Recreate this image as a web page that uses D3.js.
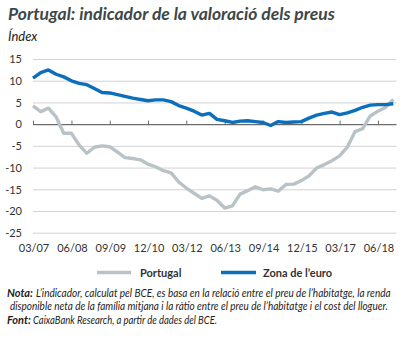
<!DOCTYPE html>
<html>
<head>
<meta charset="utf-8">
<script src="https://cdn.jsdelivr.net/npm/d3@7"></script>
<style>
  html, body { margin: 0; padding: 0; background: #ffffff; }
  svg { display: block; }
  text { font-family: Lato, "Open Sans", sans-serif; }
</style>
</head>
<body>
<svg id="chart" width="415" height="338"></svg>
<script>
// Quarterly series, March 2007 to December 2018
const firstQuarter = "03/07";
const quarterCount = 48;

const portugal = [
  4.3, 3.0, 3.8, 1.8, -2.0, -2.0, -4.7, -6.6, -5.2, -4.9, -5.1, -6.3,
  -7.6, -7.8, -8.1, -9.1, -9.7, -10.6, -11.1, -13.2, -14.6, -15.8, -17.0, -16.4,
  -17.4, -19.2, -18.7, -16.0, -15.2, -14.3, -15.0, -14.8, -15.3, -13.8, -13.7, -12.9,
  -11.8, -10.0, -9.2, -8.3, -7.2, -5.2, -1.6, -0.9, 2.0, 3.1, 4.0, 5.8
];

const euroArea = [
  10.7, 12.0, 12.6, 11.6, 11.0, 10.1, 9.5, 9.2, 8.3, 7.4, 7.3, 6.9,
  6.5, 6.1, 5.8, 5.5, 5.7, 5.7, 5.3, 4.4, 3.8, 3.1, 2.2, 2.6,
  1.2, 0.9, 0.5, 0.8, 0.9, 0.7, 0.5, -0.2, 0.7, 0.5, 0.6, 0.7,
  1.5, 2.2, 2.6, 2.9, 2.3, 2.7, 3.3, 4.0, 4.5, 4.6, 4.6, 4.8
];

const xTickLabels = ["03/07", "06/08", "09/09", "12/10", "03/12", "06/13", "09/14", "12/15", "03/17", "06/18"];
const yTickValues = [15, 10, 5, 0, -5, -10, -15, -20, -25];

const seriesNames = ["Portugal", "Zona de l\u2019euro"];
const seriesColors = ["#b9c2c6", "#0b6fbb"];

const parseQ = d3.timeParse("%m/%y");
const start = parseQ(firstQuarter);
const dates = d3.range(quarterCount).map(i => d3.timeMonth.offset(start, i * 3));

const svg = d3.select("#chart");

// Text squeezed horizontally to a given width (condensed look)
function fittedText(xPos, yPos, str, width, attrs) {
  const t = svg.append("text").text(str);
  Object.entries(attrs).forEach(([k, v]) => t.attr(k, v));
  const natural = t.node().getComputedTextLength();
  const s = Math.min(1, width / natural);
  t.attr("transform", `translate(${xPos},${yPos}) scale(${s},1)`);
  return t;
}

// Header
fittedText(8, 20, "Portugal: indicador de la valoració dels preus", 357, {
  "font-size": 17.5, "font-weight": 700, "font-style": "italic", fill: "#3d4747"
});

svg.append("text")
  .attr("x", 8).attr("y", 41)
  .attr("font-size", 13).attr("font-style", "italic")
  .attr("fill", "#222")
  .text("Índex");

// Scales
const x = d3.scaleTime().domain([dates[0], dates[dates.length - 1]]).range([33, 393.3]);
const y = d3.scaleLinear().domain([-25, 15]).range([233.2, 59.5]);
const gridRight = 396.5;

// Grid lines
svg.append("g")
  .selectAll("line")
  .data(yTickValues.filter(v => v !== 0))
  .join("line")
  .attr("x1", 33).attr("x2", gridRight)
  .attr("y1", d => y(d)).attr("y2", d => y(d))
  .attr("stroke", "#d3d3d3").attr("stroke-width", 1);

// Y labels
svg.append("g")
  .selectAll("text")
  .data(yTickValues)
  .join("text")
  .attr("x", 22).attr("y", d => y(d))
  .attr("dy", "0.35em")
  .attr("text-anchor", "end")
  .attr("font-size", 11).attr("fill", "#333")
  .text(d => d);

// Zero axis with upward ticks
const xAxis = d3.axisTop(x)
  .tickValues(xTickLabels.map(parseQ))
  .tickSize(4)
  .tickSizeOuter(0)
  .tickFormat("");
const axisG = svg.append("g")
  .attr("transform", `translate(0,${y(0)})`)
  .call(xAxis);
axisG.select(".domain").attr("d", `M33,0H${gridRight}`).attr("stroke", "#6b6b6b").attr("stroke-width", 1.3);
axisG.selectAll(".tick line").attr("stroke", "#6b6b6b").attr("stroke-width", 1);

// X labels along the bottom
svg.append("g")
  .selectAll("text")
  .data(xTickLabels)
  .join("text")
  .attr("x", d => x(parseQ(d)) + 1)
  .attr("y", 252)
  .attr("text-anchor", "middle")
  .attr("font-size", 11).attr("fill", "#333")
  .text(d => d);

// Lines
const line = d3.line()
  .x((d, i) => x(dates[i]))
  .y(d => y(d));

[portugal, euroArea].forEach((vals, k) => {
  svg.append("path")
    .datum(vals)
    .attr("fill", "none")
    .attr("stroke", seriesColors[k])
    .attr("stroke-width", 3.4)
    .attr("stroke-linejoin", "round")
    .attr("d", line);
});

// Legend
const legendItems = [
  { x1: 97, x2: 131, tx: 140 },
  { x1: 221, x2: 256, tx: 263 }
];
legendItems.forEach((it, k) => {
  svg.append("line")
    .attr("x1", it.x1).attr("x2", it.x2)
    .attr("y1", 272.5).attr("y2", 272.5)
    .attr("stroke", seriesColors[k]).attr("stroke-width", 3.5);
  svg.append("text")
    .attr("x", it.tx).attr("y", 276.5)
    .attr("font-size", 11).attr("font-weight", 700).attr("fill", "#333")
    .text(seriesNames[k]);
});

// Notes
const noteAttrs = { "font-size": 11, "font-style": "italic", fill: "#222", "font-weight": 400 };
const noteBold = { "font-size": 11, "font-style": "italic", fill: "#222", "font-weight": 700 };
fittedText(7, 297, "Nota:", 27, noteBold);
fittedText(36, 297, "L’indicador, calculat pel BCE, es basa en la relació entre el preu de l’habitatge, la renda", 355, noteAttrs);
fittedText(10, 309.5, "disponible neta de la família mitjana i la ràtio entre el preu de l’habitatge i el cost del lloguer.", 378, noteAttrs);
fittedText(7, 324, "Font:", 25, noteBold);
fittedText(33, 324, "CaixaBank Research, a partir de dades del BCE.", 184, noteAttrs);
</script>
</body>
</html>
